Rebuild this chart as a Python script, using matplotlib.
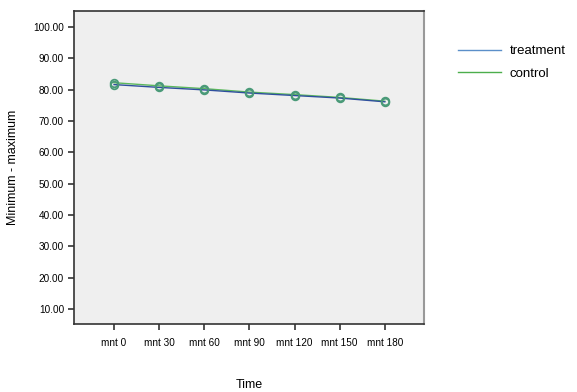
import matplotlib
matplotlib.use('Agg')
import matplotlib.pyplot as plt
from matplotlib.lines import Line2D

# data
times = ['mnt 0', 'mnt 30', 'mnt 60', 'mnt 90', 'mnt 120', 'mnt 150', 'mnt 180']
treatment = [81.6, 80.7, 79.9, 78.9, 78.1, 77.3, 76.1]
control = [82.2, 81.2, 80.3, 79.2, 78.4, 77.5, 76.3]
y_ticks = [10, 20, 30, 40, 50, 60, 70, 80, 90, 100]

plt.rcParams['font.family'] = ['Liberation Sans', 'DejaVu Sans']

fig = plt.figure(figsize=(5.77, 3.92), dpi=100)
ax = fig.add_axes([0.128, 0.173, 0.607, 0.799])
ax.set_facecolor('#efefef')

x = range(len(times))
ax.plot(x, treatment, color='#2f4f9e', lw=1.0, marker='o', ms=5.5,
        mfc='none', mec='#4a9a78', mew=1.3, label='treatment', zorder=3)
ax.plot(x, control, color='#5cb85c', lw=1.0, marker='o', ms=5.5,
        mfc='none', mec='#4a9a78', mew=1.3, label='control', zorder=2)

ax.set_xlim(-0.89, 6.87)
ax.set_ylim(5.1, 105.1)
ax.set_xticks(list(x))
ax.set_xticklabels(times, fontsize=7.2)
ax.set_yticks(y_ticks)
ax.set_yticklabels(['%.2f' % v for v in y_ticks], fontsize=7.2)
ax.tick_params(length=4, width=1.2, color='#333333', pad=3)
ax.tick_params(axis='x', pad=6)

for s in ['left', 'bottom', 'top']:
    ax.spines[s].set_linewidth(1.2)
    ax.spines[s].set_color('#333333')
ax.spines['right'].set_linewidth(1.5)
ax.spines['right'].set_color('#999999')

ax.set_xlabel('Time', fontsize=9, labelpad=22)
ax.set_ylabel('Minimum - maximum', fontsize=9, labelpad=10)

# legend lines in lighter colours like the original
handles = [Line2D([], [], color='#5b8fc9', lw=1.0),
           Line2D([], [], color='#4cae4c', lw=1.0)]
fig.legend(handles, ['treatment', 'control'], loc='upper left',
           bbox_to_anchor=(0.774, 0.915), frameon=False, fontsize=9.5,
           handlelength=3.2, handletextpad=0.7, labelspacing=0.75)

fig.savefig('out.png', dpi=100)
